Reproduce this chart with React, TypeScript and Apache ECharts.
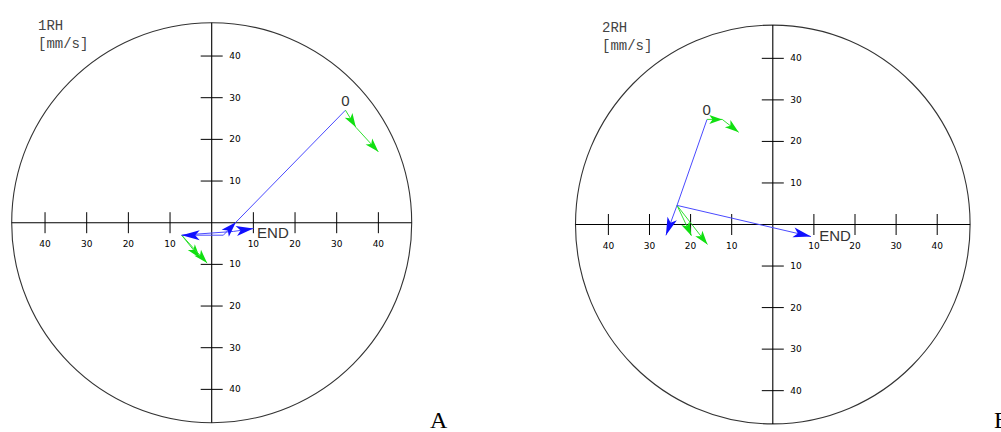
import React, { useEffect, useRef } from "react";
import * as echarts from "echarts";

// ---------- data ----------
const AXIS_LIMIT = 48;
const tickValues = [10, 20, 30, 40];
const chartTitles = ["1RH\n[mm/s]", "2RH\n[mm/s]"];
const panelLetters = ["A", "B"];

// each row: [x1, y1, x2, y2] in mm/s
const blueLinesA = [
  [32.1, 27.0, 5.8, 0.1],
  [-7.2, -3.0, 5.2, -2.1],
];
const blueArrowsA = [
  [2.8, -3.0, 5.8, 0.1],
  [2.8, -3.0, -7.2, -3.0],
  [5.2, -2.1, 10.0, -1.4],
];
const greenArrowsA = [
  [32.1, 27.0, 34.6, 22.9],
  [34.6, 22.9, 40.0, 17.0],
  [-7.2, -3.0, -2.8, -8.5],
  [-7.2, -3.0, -1.1, -9.7],
];
const pointLabelsA: [string, number, number][] = [
  ["0", 32.1, 29.4],
  ["END", 10.9, -2.35],
];

const blueLinesB = [[-16.0, 25.3, -23.3, 4.6]];
const blueArrowsB = [
  [-23.3, 4.6, -26.0, -2.6],
  [-23.3, 4.6, 9.3, -2.9],
];
const greenArrowsB = [
  [-16.0, 25.3, -12.3, 25.3],
  [-12.3, 25.3, -8.3, 22.2],
  [-23.3, 4.6, -19.8, -2.7],
  [-23.3, 4.6, -15.9, -4.8],
];
const pointLabelsB: [string, number, number][] = [
  ["0", -16.1, 27.6],
  ["END", 11.3, -2.6],
];

// ---------- renderers ----------
const BLUE = "#1010ff";
const BLUE_LINE = "#4a4aff";
const GREEN = "#10e010";

function frameRenderer(params: any, api: any) {
  const c = api.coord([0, 0]);
  const rx = api.coord([AXIS_LIMIT, 0])[0] - c[0];
  const ry = c[1] - api.coord([0, AXIS_LIMIT])[1];
  const children: any[] = [
    {
      type: "ellipse",
      shape: { cx: c[0], cy: c[1], rx, ry },
      style: { stroke: "#333", fill: "none", lineWidth: 1.1 },
    },
    {
      type: "line",
      shape: { x1: c[0] - rx, y1: c[1], x2: c[0] + rx, y2: c[1] },
      style: { stroke: "#000", lineWidth: 1.1 },
    },
    {
      type: "line",
      shape: { x1: c[0], y1: c[1] - ry, x2: c[0], y2: c[1] + ry },
      style: { stroke: "#000", lineWidth: 1.1 },
    },
  ];
  for (const v of tickValues) {
    for (const s of [-1, 1]) {
      const px = api.coord([s * v, 0]);
      children.push({
        type: "line",
        shape: { x1: px[0], y1: c[1] - 10.5, x2: px[0], y2: c[1] + 10.5 },
        style: { stroke: "#000", lineWidth: 1 },
      });
      children.push({
        type: "text",
        style: {
          text: String(v),
          x: px[0],
          y: c[1] + 21.5,
          align: "center",
          verticalAlign: "middle",
          fontSize: 9,
          fontFamily: "DejaVu Sans",
          fill: "#000",
        },
      });
      const py = api.coord([0, s * v]);
      children.push({
        type: "line",
        shape: { x1: c[0] - 11, y1: py[1], x2: c[0] + 11, y2: py[1] },
        style: { stroke: "#000", lineWidth: 1 },
      });
      children.push({
        type: "text",
        style: {
          text: String(v),
          x: c[0] + 17.5,
          y: py[1],
          align: "left",
          verticalAlign: "middle",
          fontSize: 9,
          fontFamily: "DejaVu Sans",
          fill: "#000",
        },
      });
    }
  }
  return { type: "group", children };
}

function lineRenderer(color: string) {
  return (params: any, api: any) => {
    const s = api.coord([api.value(0), api.value(1)]);
    const e = api.coord([api.value(2), api.value(3)]);
    return {
      type: "line",
      shape: { x1: s[0], y1: s[1], x2: e[0], y2: e[1] },
      style: { stroke: color, lineWidth: 1 },
    };
  };
}

function arrowRenderer(color: string, lineColor: string, headLen: number, headW: number) {
  return (params: any, api: any) => {
    const s = api.coord([api.value(0), api.value(1)]);
    const e = api.coord([api.value(2), api.value(3)]);
    const dx = e[0] - s[0];
    const dy = e[1] - s[1];
    const len = Math.hypot(dx, dy) || 1;
    const ux = dx / len;
    const uy = dy / len;
    const nx = -uy;
    const ny = ux;
    const L = Math.min(headLen, len * 0.85);
    const bx = e[0] - ux * L;
    const by = e[1] - uy * L;
    const mx = e[0] - ux * L * 0.75;
    const my = e[1] - uy * L * 0.75;
    return {
      type: "group",
      children: [
        {
          type: "line",
          shape: { x1: s[0], y1: s[1], x2: e[0], y2: e[1] },
          style: { stroke: lineColor, lineWidth: 1 },
        },
        {
          type: "polygon",
          shape: {
            points: [
              [e[0], e[1]],
              [bx + nx * headW, by + ny * headW],
              [mx, my],
              [bx - nx * headW, by - ny * headW],
            ],
          },
          style: { fill: color },
        },
      ],
    };
  };
}

function labelRenderer(labels: [string, number, number][]) {
  return (params: any, api: any) => {
    const p = api.coord([api.value(0), api.value(1)]);
    const text = labels[params.dataIndex][0];
    return {
      type: "text",
      style: {
        text,
        x: p[0],
        y: p[1],
        align: text === "0" ? "center" : "left",
        verticalAlign: "middle",
        fontSize: 15,
        fontFamily: "Liberation Sans",
        fill: "#333",
      },
    };
  };
}

function panelSeries(
  gi: number,
  blueLines: number[][],
  blueArrows: number[][],
  greenArrows: number[][],
  labels: [string, number, number][]
) {
  const base = { type: "custom", xAxisIndex: gi, yAxisIndex: gi, clip: false, silent: true };
  return [
    { ...base, data: [[0, 0]], renderItem: frameRenderer, z: 1 },
    { ...base, data: blueLines, renderItem: lineRenderer(BLUE_LINE), z: 2 },
    { ...base, data: greenArrows, renderItem: arrowRenderer(GREEN, "#30e030", 14, 4.5), z: 3 },
    { ...base, data: blueArrows, renderItem: arrowRenderer(BLUE, BLUE_LINE, 18, 5), z: 4 },
    {
      ...base,
      data: labels.map((l) => [l[1], l[2]]),
      renderItem: labelRenderer(labels),
      z: 5,
    },
  ];
}

export default function App() {
  const ref = useRef<HTMLDivElement>(null);
  useEffect(() => {
    if (!ref.current) return;
    const chart = echarts.init(ref.current, undefined, { renderer: "svg" });
    const axisCommon = { type: "value", min: -AXIS_LIMIT, max: AXIS_LIMIT, show: false };
    const titleStyle = {
      fontFamily: "Liberation Mono",
      fontSize: 14,
      fontWeight: "normal",
      color: "#444",
      lineHeight: 18,
    };
    const letterStyle = {
      fontFamily: "Liberation Serif",
      fontSize: 24,
      fontWeight: "normal",
      color: "#000",
    };
    chart.setOption({
      animation: false,
      backgroundColor: "#fff",
      title: [
        { text: chartTitles[0], left: 33, top: 12, textStyle: titleStyle },
        { text: chartTitles[1], left: 597, top: 14, textStyle: titleStyle },
        { text: panelLetters[0], left: 425, top: 403, textStyle: letterStyle },
        { text: panelLetters[1], left: 989, top: 403, textStyle: letterStyle },
      ],
      grid: [
        { left: 11.7, top: 22.7, width: 400, height: 400 },
        { left: 575.5, top: 25.1, width: 394.6, height: 398.8 },
      ],
      xAxis: [
        { ...axisCommon, gridIndex: 0 },
        { ...axisCommon, gridIndex: 1 },
      ],
      yAxis: [
        { ...axisCommon, gridIndex: 0 },
        { ...axisCommon, gridIndex: 1 },
      ],
      series: [
        ...panelSeries(0, blueLinesA, blueArrowsA, greenArrowsA, pointLabelsA),
        ...panelSeries(1, blueLinesB, blueArrowsB, greenArrowsB, pointLabelsB),
      ],
    });
    return () => chart.dispose();
  }, []);
  return (
    <div
      ref={ref}
      style={{ position: "fixed", left: 0, top: 0, width: 1001, height: 432 }}
    />
  );
}
